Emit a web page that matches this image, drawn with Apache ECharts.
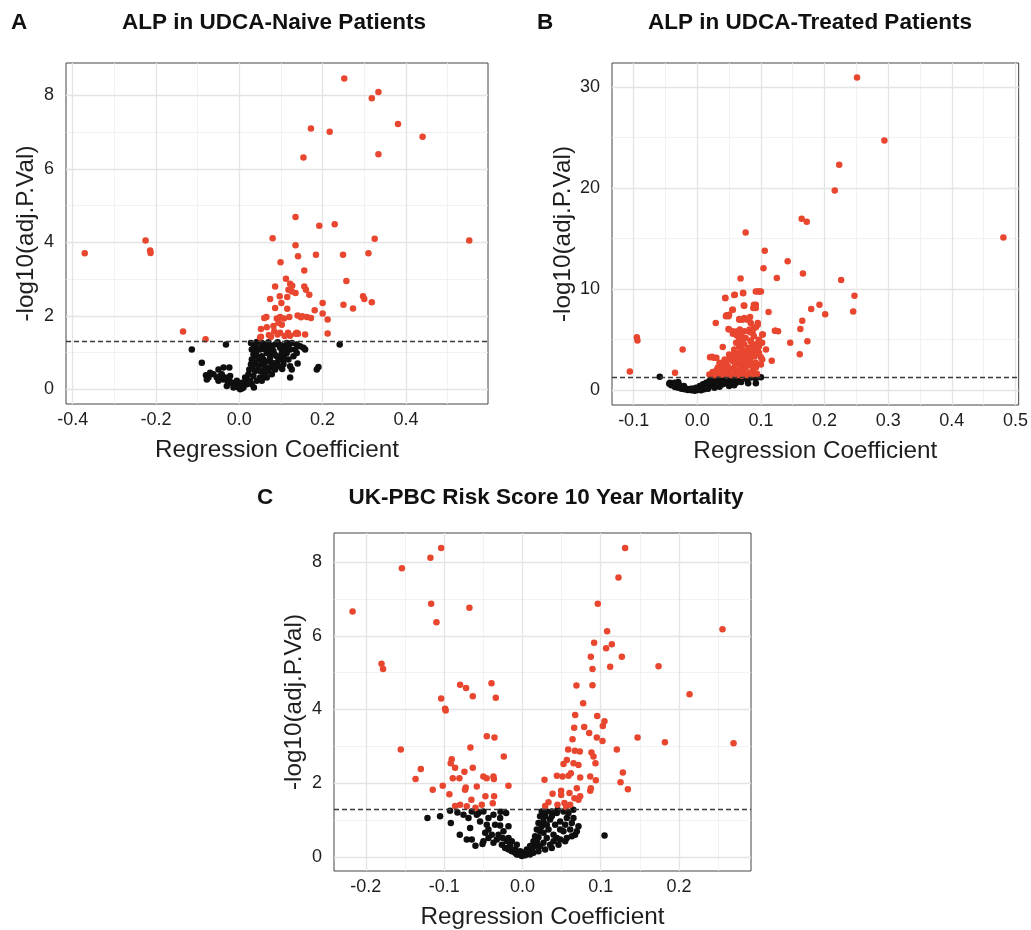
<!DOCTYPE html>
<html>
<head>
<meta charset="utf-8">
<script src="https://cdn.jsdelivr.net/npm/echarts@6/dist/echarts.min.js"></script>
<style>
html,body{margin:0;padding:0;background:#fff;}
#chart{width:1031px;height:930px;}
</style>
</head>
<body>
<div id="chart"></div>
<script>
// ---------- DATA ----------
const panelLetters = ['A', 'B', 'C'];
const panelTitles = ['ALP in UDCA-Naive Patients', 'ALP in UDCA-Treated Patients', 'UK-PBC Risk Score 10 Year Mortality'];
const xAxisTitle = 'Regression Coefficient';
const yAxisTitle = '-log10(adj.P.Val)';
const pThreshold = 0.05;

const aXTicks = [-0.4, -0.2, 0, 0.2, 0.4];
const aXMinor = [-0.3, -0.1, 0.1, 0.3, 0.5];
const aYTicks = [0, 2, 4, 6, 8];
const aYMinor = [1, 3, 5, 7];
const bXTicks = [-0.1, 0, 0.1, 0.2, 0.3, 0.4, 0.5];
const bXMinor = [-0.05, 0.05, 0.15, 0.25, 0.35, 0.45];
const bYTicks = [0, 10, 20, 30];
const bYMinor = [5, 15, 25];
const cXTicks = [-0.2, -0.1, 0, 0.1, 0.2];
const cXMinor = [-0.15, -0.05, 0.05, 0.15, 0.25];
const cYTicks = [0, 2, 4, 6, 8];
const cYMinor = [1, 3, 5, 7];

const aRed = [[0.252,8.46],[0.334,8.09],[0.318,7.92],[0.381,7.22],[0.440,6.87],[0.172,7.10],[0.217,7.01],[0.154,6.31],[0.334,6.40],[0.135,4.69],[0.192,4.45],[0.229,4.49],[0.080,4.11],[0.325,4.10],[0.552,4.05],[-0.225,4.05],[-0.371,3.70],[-0.214,3.78],[-0.213,3.71],[0.135,3.92],[0.141,3.62],[0.184,3.66],[0.249,3.66],[0.310,3.70],[0.099,3.46],[0.156,3.23],[0.257,2.95],[0.112,3.01],[0.086,2.80],[0.122,2.87],[0.127,2.82],[0.118,2.71],[0.126,2.66],[0.135,2.62],[0.156,2.80],[0.160,2.71],[0.168,2.57],[0.074,2.46],[0.097,2.53],[0.115,2.51],[0.101,2.35],[0.297,2.53],[0.300,2.46],[0.318,2.37],[0.250,2.30],[0.273,2.20],[0.200,2.35],[0.086,2.21],[0.115,2.19],[0.181,2.15],[0.200,2.06],[0.065,1.97],[0.060,1.94],[0.090,1.93],[0.098,1.97],[0.107,1.93],[0.120,1.97],[0.140,2.01],[0.148,1.96],[0.162,1.97],[0.172,1.94],[0.151,1.99],[0.212,1.90],[0.094,1.81],[0.102,1.76],[0.082,1.72],[0.052,1.64],[0.066,1.69],[0.084,1.58],[0.098,1.54],[0.117,1.54],[0.135,1.51],[0.141,1.51],[0.158,1.49],[0.212,1.52],[0.071,1.48],[0.050,1.41],[-0.135,1.57],[-0.081,1.36],[0.109,1.45],[0.122,1.46],[0.052,1.43],[0.076,1.43],[0.092,1.49],[0.138,1.54]];

const aBlack = [[-0.114,1.08],[-0.090,0.72],[-0.080,0.38],[-0.074,0.32],[-0.062,0.41],[-0.050,0.54],[-0.038,0.59],[-0.024,0.59],[-0.032,1.22],[-0.046,0.36],[-0.038,0.27],[-0.028,0.23],[-0.018,0.18],[-0.010,0.14],[-0.002,0.05],[0.002,0.00],[0.010,0.09],[0.014,0.18],[0.018,0.27],[0.022,0.41],[0.024,0.54],[0.028,0.68],[0.030,0.81],[0.034,0.95],[0.030,1.08],[0.034,1.22],[0.042,1.29],[0.054,1.26],[0.070,1.28],[0.092,1.28],[0.114,1.26],[0.138,1.22],[0.158,1.08],[0.122,1.08],[0.106,0.90],[0.090,0.72],[0.074,0.59],[0.062,0.45],[0.050,0.32],[0.042,0.23],[0.122,0.32],[0.126,0.54],[0.186,0.54],[0.190,0.61],[0.241,1.22],[0.066,0.99],[0.082,1.04],[0.098,1.13],[0.058,0.81],[0.074,0.86],[0.090,0.90],[0.046,0.63],[0.054,0.68],[0.062,1.08],[0.078,1.17],[0.146,1.17],[0.134,1.08],[0.114,0.99],[0.098,0.81],[0.082,0.68],[0.070,0.50],[0.038,0.50],[0.034,0.36],[0.026,0.23],[0.018,0.14],[0.010,0.05],[-0.006,0.09],[-0.014,0.14],[-0.022,0.20],[-0.034,0.32],[-0.042,0.41],[-0.054,0.32],[-0.070,0.45],[-0.078,0.27],[-0.022,0.36],[-0.006,0.23],[0.006,0.18],[0.042,0.90],[0.050,1.08],[0.038,1.17],[0.054,0.90],[0.086,0.54],[0.094,0.63],[0.106,0.68],[0.118,0.81],[0.130,0.90],[0.138,0.99],[0.154,1.13],[0.066,0.32],[0.054,0.23],[0.078,0.41],[0.038,0.72],[0.046,0.81],[0.032,0.63],[0.040,1.01],[0.102,0.99],[0.110,1.13],[0.126,1.26],[0.086,1.22],[0.070,1.13],[0.058,1.17],[0.078,0.72],[0.094,0.86],[0.122,0.63],[0.074,0.98],[0.062,0.59],[0.050,0.50],[0.014,0.32],[0.022,0.20],[0.030,0.14],[-0.014,0.05],[0.006,0.02],[-0.030,0.09],[-0.050,0.23],[0.060,1.22],[0.100,1.20],[0.118,1.16],[0.045,1.12],[0.085,0.95],[0.110,0.82],[0.065,0.75],[0.140,0.70],[0.103,0.55],[0.058,0.38],[0.035,0.05],[0.028,1.26]];

const bRed = [[0.251,30.91],[0.294,24.68],[0.223,22.29],[0.216,19.76],[0.164,16.95],[0.172,16.65],[0.481,15.11],[0.076,15.60],[0.106,13.80],[0.142,12.75],[0.104,12.06],[0.125,11.11],[0.166,11.54],[0.226,10.91],[0.068,11.05],[0.072,9.64],[0.058,9.41],[0.044,9.14],[0.092,9.77],[0.098,9.77],[0.247,9.34],[0.073,8.39],[0.092,8.46],[0.088,8.13],[0.192,8.46],[0.179,8.03],[0.201,7.51],[0.245,7.80],[0.112,7.74],[0.055,7.96],[0.046,7.41],[0.049,7.31],[0.066,7.05],[0.074,7.15],[0.083,7.24],[0.165,6.88],[0.029,6.65],[0.095,6.65],[0.092,6.23],[0.049,6.06],[0.067,6.00],[0.162,6.06],[0.122,5.90],[0.127,5.83],[0.083,5.74],[0.056,5.60],[0.062,5.41],[0.103,5.51],[0.089,5.34],[0.069,5.18],[-0.095,5.24],[-0.094,4.92],[0.084,4.92],[0.096,4.75],[0.173,4.85],[0.146,4.69],[0.071,4.69],[0.040,4.29],[0.066,4.36],[0.089,4.29],[0.092,3.97],[-0.023,4.03],[0.058,3.70],[0.161,3.57],[0.020,3.28],[0.026,3.21],[0.100,3.28],[0.117,2.92],[-0.106,1.87],[-0.035,1.74],[0.045,2.72],[0.019,1.57],[0.023,3.31],[0.030,3.21],[0.037,2.39],[0.045,2.72],[0.050,3.05],[0.056,3.38],[0.064,3.70],[0.069,4.03],[0.058,2.23],[0.066,2.56],[0.074,2.88],[0.079,3.21],[0.084,3.54],[0.089,4.03],[0.092,4.52],[0.097,5.01],[0.102,5.51],[0.084,4.85],[0.076,5.18],[0.069,5.51],[0.063,5.83],[0.056,5.83],[0.050,6.00],[0.087,5.67],[0.089,6.16],[0.095,6.49],[0.084,6.65],[0.079,6.98],[0.071,6.98],[0.066,6.98],[0.050,7.47],[0.045,7.31],[0.056,7.96],[0.092,8.13],[0.089,8.46],[0.074,8.36],[0.044,9.11],[0.059,9.44],[0.072,9.60],[0.095,9.77],[0.100,9.77],[0.123,5.90],[0.102,3.05],[0.097,3.70],[0.100,2.56],[0.092,2.23],[0.087,1.90],[0.082,1.74],[0.074,1.67],[0.066,1.57],[0.058,1.57],[0.050,1.67],[0.043,1.74],[0.035,1.80],[0.030,1.67],[0.024,1.80],[0.061,1.90],[0.069,2.06],[0.076,2.23],[0.084,2.46],[0.092,2.72],[0.079,2.56],[0.071,3.05],[0.063,3.21],[0.056,2.88],[0.048,2.39],[0.040,2.06],[0.032,2.23],[0.058,4.03],[0.066,4.36],[0.074,4.52],[0.081,4.20],[0.087,4.52],[0.050,3.54],[0.043,3.05],[0.035,2.72],[0.062,2.72],[0.069,3.44],[0.076,3.87],[0.084,4.03],[0.066,5.01],[0.061,4.69],[0.074,5.83],[0.082,6.00],[0.097,4.36],[0.108,4.03],[0.102,4.69],[0.027,1.50],[0.038,1.55],[0.046,1.50],[0.054,1.48],[0.062,1.50],[0.070,1.45],[0.078,1.50],[0.086,1.55],[0.094,1.62],[0.035,2.40],[0.042,2.45],[0.052,2.10],[0.060,2.60],[0.068,2.35],[0.075,2.60],[0.083,2.95],[0.090,3.35],[0.054,3.20],[0.065,3.00],[0.078,3.40],[0.086,3.80],[0.095,4.00],[0.072,3.90],[0.046,2.00],[0.038,1.90],[0.030,1.95]];

const bBlack = [[-0.059,1.34],[0.100,1.30],[0.080,0.69],[0.092,0.69],[-0.044,0.66],[-0.041,0.49],[-0.035,0.33],[-0.030,0.26],[-0.025,0.16],[-0.020,0.10],[-0.015,0.03],[-0.009,0.00],[-0.004,-0.03],[0.001,0.03],[0.006,0.16],[0.011,0.26],[0.017,0.43],[0.022,0.59],[0.027,0.75],[0.032,0.92],[0.037,1.08],[0.043,1.25],[0.074,1.28],[0.058,1.08],[0.053,1.25],[0.048,1.15],[0.035,1.25],[0.024,1.08],[0.019,0.92],[0.014,0.75],[0.009,0.59],[0.004,0.43],[-0.002,0.26],[-0.007,0.16],[-0.012,0.10],[-0.017,0.16],[-0.022,0.26],[-0.028,0.36],[-0.033,0.49],[-0.038,0.59],[-0.043,0.75],[0.030,0.82],[0.040,0.92],[0.045,1.02],[0.050,0.82],[0.055,0.92],[0.061,0.75],[0.066,1.02],[0.069,0.82],[0.035,0.69],[0.040,0.59],[0.045,0.69],[0.024,0.59],[0.019,0.43],[0.014,0.36],[0.009,0.16],[0.004,0.10],[0.022,1.15],[0.030,1.25],[0.040,1.28],[0.055,1.28],[0.063,1.25],[0.066,1.15],[0.058,0.49],[0.050,0.43],[0.035,0.36],[0.027,0.26],[0.017,0.16],[0.011,0.10],[0.006,0.00],[-0.003,0.03],[-0.010,0.16],[-0.021,0.43],[-0.029,0.59],[-0.036,0.75],[-0.030,0.82],[0.043,0.82],[0.053,0.59],[0.030,0.49],[0.019,0.69],[0.085,1.28],[0.092,1.20],[0.078,1.10]];

const cRed = [[-0.1038,8.38],[-0.1175,8.12],[-0.154,7.83],[-0.217,6.66],[-0.1166,6.87],[-0.1098,6.37],[-0.0677,6.76],[-0.180,5.24],[-0.178,5.10],[-0.0796,4.67],[-0.072,4.58],[-0.0395,4.71],[-0.0634,4.36],[-0.034,4.32],[-0.1038,4.30],[-0.0988,4.02],[-0.098,3.97],[-0.0455,3.27],[-0.0357,3.24],[-0.1554,2.91],[-0.0664,2.97],[-0.0238,2.72],[-0.0903,2.65],[-0.0916,2.54],[-0.086,2.42],[-0.0741,2.31],[-0.0634,2.42],[-0.1298,2.38],[-0.1365,2.11],[-0.089,2.13],[-0.0805,2.13],[-0.0499,2.18],[-0.0457,2.13],[-0.037,2.18],[-0.0365,2.11],[-0.1018,1.93],[-0.0178,1.93],[-0.0724,1.88],[-0.0583,1.91],[-0.0733,1.82],[-0.1146,1.82],[-0.0933,1.70],[-0.0473,1.64],[-0.0362,1.64],[-0.0652,1.55],[-0.0796,1.41],[-0.0711,1.37],[-0.0519,1.41],[-0.0379,1.45],[-0.0860,1.38],[-0.0600,1.33],[0.1312,8.38],[0.1227,7.58],[0.0963,6.87],[0.2556,6.18],[0.1082,6.12],[0.0916,5.81],[0.1069,5.66],[0.1142,5.77],[0.1270,5.43],[0.0874,5.43],[0.0895,5.10],[0.1121,5.16],[0.1739,5.17],[0.0690,4.65],[0.0895,4.66],[0.2135,4.41],[0.0776,4.17],[0.0674,3.85],[0.0955,3.82],[0.1048,3.68],[0.1027,3.55],[0.0661,3.50],[0.0789,3.52],[0.0853,3.36],[0.0640,3.19],[0.0950,3.24],[0.1023,3.14],[0.1471,3.24],[0.1820,3.11],[0.2697,3.08],[0.0584,2.91],[0.0669,2.88],[0.0733,2.86],[0.0882,2.83],[0.0908,2.72],[0.1206,2.91],[0.0567,2.63],[0.0525,2.52],[0.0653,2.54],[0.0716,2.49],[0.0933,2.54],[0.0440,2.20],[0.0512,2.18],[0.0589,2.20],[0.0619,2.27],[0.0738,2.15],[0.0866,2.18],[0.0938,2.08],[0.1283,2.29],[0.1253,2.02],[0.1347,1.83],[0.0282,2.09],[0.0695,1.86],[0.0738,1.64],[0.0874,1.86],[0.0866,1.79],[0.0495,1.79],[0.0601,1.73],[0.0665,1.59],[0.0385,1.71],[0.0495,1.68],[0.0333,1.48],[0.0537,1.46],[0.0448,1.41],[0.0610,1.41],[0.0716,1.55],[0.0290,1.38],[0.0560,1.35]];

const cBlack = [[-0.1213,1.05],[-0.1052,1.10],[-0.0915,0.92],[-0.0924,1.25],[-0.0689,1.05],[-0.0647,1.23],[-0.0562,1.19],[-0.0498,1.23],[-0.0370,1.14],[-0.0208,1.19],[-0.0711,0.47],[-0.0647,0.47],[-0.0510,0.35],[-0.0476,0.65],[-0.0391,0.60],[-0.0285,0.85],[-0.0178,0.83],[-0.0370,0.38],[-0.0327,0.47],[-0.0263,0.33],[-0.0221,0.24],[-0.0178,0.20],[-0.0136,0.15],[-0.0093,0.11],[-0.0050,0.06],[-0.0008,0.02],[0.0035,0.04],[0.0077,0.11],[0.0120,0.20],[0.0162,0.29],[0.0184,0.42],[0.0205,0.53],[0.0226,0.69],[0.0247,0.83],[0.0269,0.96],[0.0290,1.10],[0.0311,1.23],[0.0375,1.23],[0.0439,1.19],[0.0524,1.23],[0.0567,1.05],[0.0631,0.92],[0.0716,0.83],[0.0673,0.60],[0.0567,0.51],[0.0482,0.47],[0.0397,0.60],[0.0333,0.74],[0.0418,0.87],[0.0482,0.96],[0.0354,1.01],[0.0311,0.51],[0.0269,0.38],[0.0226,0.29],[0.0354,0.33],[0.0397,0.42],[0.0439,0.51],[0.0524,0.69],[0.0610,0.74],[0.1049,0.58],[0.0141,0.11],[0.0098,0.06],[-0.0093,0.20],[-0.0157,0.29],[-0.0200,0.42],[-0.0251,0.51],[-0.0306,0.60],[-0.0434,0.74],[-0.0455,0.87],[-0.0541,0.96],[-0.0583,1.14],[-0.0668,0.78],[-0.0753,1.14],[-0.0434,1.05],[-0.0349,0.87],[-0.0285,1.05],[-0.0242,0.69],[-0.0434,0.51],[-0.0498,0.42],[-0.0136,0.42],[-0.0072,0.33],[-0.0029,0.15],[0.0056,0.20],[0.0098,0.29],[0.0141,0.42],[0.0162,0.56],[0.0184,0.74],[0.0205,0.92],[0.0226,1.10],[0.0247,1.23],[0.0375,1.10],[0.0311,0.87],[0.0269,0.65],[0.0482,0.74],[0.0546,0.87],[0.0588,1.19],[0.0652,1.05],[0.0695,0.69],[0.0631,0.56],[0.0546,0.42],[0.0461,0.33],[0.0375,0.24],[0.0290,0.20],[0.0205,0.15],[0.0013,0.11],[-0.0072,0.06],[-0.0178,0.51],[-0.0830,1.20],[-0.0800,0.60],[-0.0600,0.30],[-0.0280,1.22],[0.0450,1.28],[0.0650,1.28]];

// ---------- LAYOUT / STYLE ----------
const FONT = '"Liberation Sans", Arial, Helvetica, sans-serif';
const RED = '#e8462f';
const BLACK = '#0f0f0f';
const TEXT = '#1e1e1e';
const grids = [
  {left: 66, top: 63, width: 422, height: 341},
  {left: 612, top: 63, width: 410, height: 342},
  {left: 334, top: 533, width: 417, height: 340}
];
const xRanges = [[-0.416, 0.597], [-0.134, 0.505], [-0.2407, 0.292]];
const yRanges = [[-0.40, 8.88], [-1.45, 32.35], [-0.386, 8.79]];
const xTicks = [aXTicks, bXTicks, cXTicks];
const xMinor = [aXMinor, bXMinor, cXMinor];
const yTicks = [aYTicks, bYTicks, cYTicks];
const yMinor = [aYMinor, bYMinor, cYMinor];
const yNameGap = [28, 37, 28];
const reds = [aRed, bRed, cRed];
const blacks = [aBlack, bBlack, cBlack];

const chart = echarts.init(document.getElementById('chart'), null, {renderer: 'canvas'});

const xAxes = [], yAxes = [], series = [];
for (let i = 0; i < 3; i++) {
  xAxes.push({
    type: 'value', gridIndex: i, min: xRanges[i][0], max: xRanges[i][1],
    axisLine: {show: false},
    axisTick: {show: true, customValues: xTicks[i], length: 5, lineStyle: {color: '#333', width: 1}},
    axisLabel: {customValues: xTicks[i], formatter: v => v.toFixed(1), fontSize: 18, color: TEXT, fontFamily: FONT, margin: 7},
    splitLine: {show: false},
    name: xAxisTitle, nameLocation: 'middle', nameGap: 34,
    nameTextStyle: {fontSize: 24.3, color: TEXT, fontFamily: FONT}
  });
  yAxes.push({
    type: 'value', gridIndex: i, min: yRanges[i][0], max: yRanges[i][1],
    axisLine: {show: false},
    axisTick: {show: true, customValues: yTicks[i], length: 5, lineStyle: {color: '#333', width: 1}},
    axisLabel: {customValues: yTicks[i], formatter: v => String(v), fontSize: 18, color: TEXT, fontFamily: FONT, margin: 12},
    splitLine: {show: false},
    name: yAxisTitle, nameLocation: 'middle', nameGap: yNameGap[i],
    nameTextStyle: {fontSize: 24.3, color: TEXT, fontFamily: FONT}
  });
  const gl = [];
  xMinor[i].forEach(v => gl.push({xAxis: v, lineStyle: {color: '#efefef', width: 0.8, type: 'solid'}}));
  yMinor[i].forEach(v => gl.push({yAxis: v, lineStyle: {color: '#efefef', width: 0.8, type: 'solid'}}));
  xTicks[i].forEach(v => gl.push({xAxis: v, lineStyle: {color: '#e4e4e4', width: 1.3, type: 'solid'}}));
  yTicks[i].forEach(v => gl.push({yAxis: v, lineStyle: {color: '#e4e4e4', width: 1.3, type: 'solid'}}));
  series.push({
    type: 'scatter', xAxisIndex: i, yAxisIndex: i, data: [], z: 1, silent: true,
    markLine: {z: 1, silent: true, symbol: ['none', 'none'], label: {show: false}, animation: false, data: gl, emphasis: {disabled: true}}
  });
  series.push({
    type: 'scatter', xAxisIndex: i, yAxisIndex: i, data: blacks[i], z: 3, symbolSize: 6.5,
    itemStyle: {color: BLACK, opacity: 1}, silent: true, animation: false
  });
  series.push({
    type: 'scatter', xAxisIndex: i, yAxisIndex: i, data: reds[i], z: 4, symbolSize: 6.5,
    itemStyle: {color: RED, opacity: 1}, silent: true, animation: false
  });
  series.push({
    type: 'scatter', xAxisIndex: i, yAxisIndex: i, data: [], z: 6, silent: true,
    markLine: {z: 6, silent: true, symbol: ['none', 'none'], label: {show: false}, animation: false,
      data: [{yAxis: -Math.log10(pThreshold)}],
      lineStyle: {color: '#3a3a3a', width: 1.3, type: [5, 3]}, emphasis: {disabled: true}}
  });
}

const titlePos = [[274, 22.5], [810, 22.5], [546, 497.5]];
const letterPos = [[19, 22.5], [545, 22.5], [265, 497.5]];
const graphics = [];
for (let i = 0; i < 3; i++) {
  graphics.push({type: 'text', x: titlePos[i][0], y: titlePos[i][1], z: 10,
    style: {text: panelTitles[i], font: 'bold 22.5px ' + FONT, fill: '#111', align: 'center', verticalAlign: 'middle'}});
  graphics.push({type: 'text', x: letterPos[i][0], y: letterPos[i][1], z: 10,
    style: {text: panelLetters[i], font: 'bold 22.5px ' + FONT, fill: '#111', align: 'center', verticalAlign: 'middle'}});
}

chart.setOption({
  animation: false,
  backgroundColor: '#ffffff',
  grid: grids.map(g => Object.assign({show: true, borderColor: '#444', borderWidth: 1, backgroundColor: 'transparent', containLabel: false}, g)),
  xAxis: xAxes,
  yAxis: yAxes,
  series: series,
  graphic: graphics
});
</script>
</body>
</html>
